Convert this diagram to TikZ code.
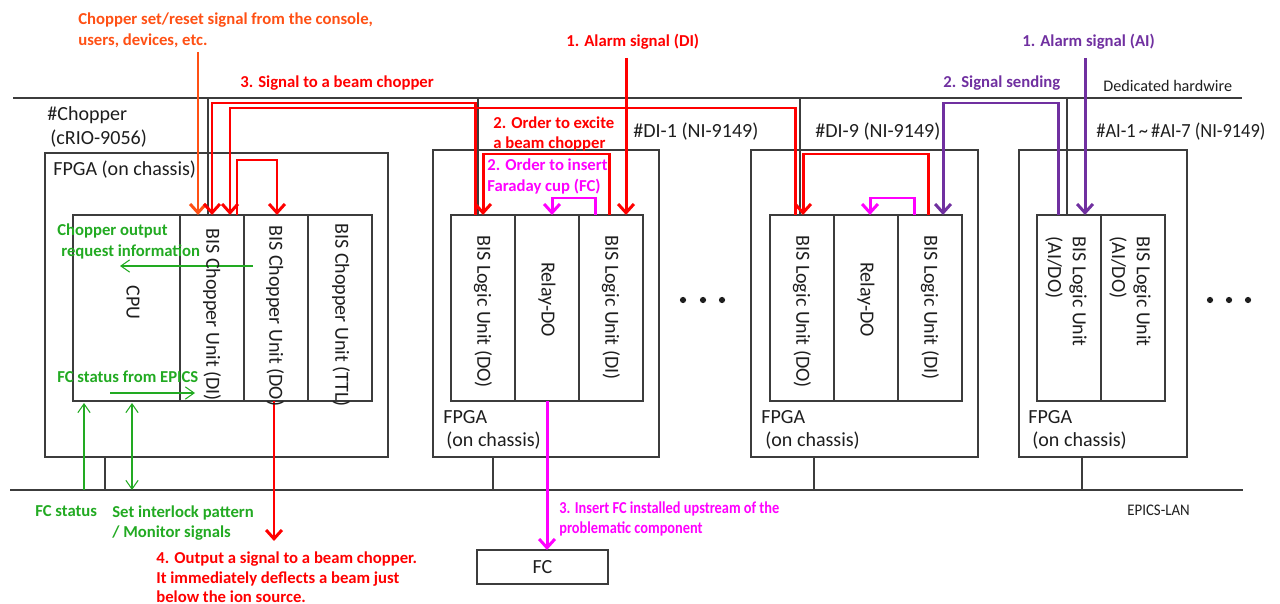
\documentclass[tikz,border=0pt]{standalone}
\usepackage{fontspec}
\setmainfont{Carlito}
\usetikzlibrary{arrows.meta,calc}
\definecolor{cred}{RGB}{255,0,0}
\definecolor{corange}{RGB}{255,80,20}
\definecolor{cmag}{RGB}{255,0,255}
\definecolor{cpurp}{RGB}{112,48,160}
\definecolor{cgreen}{RGB}{34,170,34}
\definecolor{cline}{RGB}{60,60,60}
\definecolor{ctext}{RGB}{30,30,30}
\begin{document}
\begin{tikzpicture}[x=0.02cm,y=-0.02cm,
  bx/.style={draw=cline, line width=0.85pt, inner sep=0pt, outer sep=0pt, anchor=north west},
  unitbox/.style={bx, minimum width=64*0.02cm, minimum height=186*0.02cm},
  rtxt/.style={rotate=-90, anchor=west, inner sep=0pt, font=\fontsize{11.4}{14.2}\selectfont, text=ctext},
  rtxtb/.style={rtxt, align=left},
  reg/.style={anchor=base west, inner sep=0pt, font=\fontsize{11.4}{14}\selectfont, text=ctext},
  small/.style={anchor=base west, inner sep=0pt, font=\fontsize{9.2}{11}\selectfont, text=ctext},
  lbl/.style={anchor=base west, inner sep=0pt, font=\bfseries\fontsize{9.5}{12}\selectfont},
  wire/.style={draw=cline, line width=0.85pt},
  sig/.style={line width=1.7pt, -{Straight Barb[length=5pt,width=9pt]}},
  gsig/.style={draw=cgreen, line width=0.6pt, -{Straight Barb[length=5pt,width=7pt]}},
  gsigb/.style={draw=cgreen, line width=0.6pt, {Straight Barb[length=5pt,width=7pt]}-{Straight Barb[length=5pt,width=7pt]}},
]
\useasboundingbox (0,0) rectangle (1280,604);

% ---------- buses ----------
\coordinate (hwL) at (13,98); \coordinate (hwR) at (1242,98);
\coordinate (lanL) at (10,490); \coordinate (lanR) at (1243,490);
\draw[wire] (hwL) -- (hwR);
\draw[wire] (lanL) -- (lanR);

% ---------- boxes ----------
\node[bx, minimum width=343*0.02cm, minimum height=304*0.02cm] (chfpga) at (45,153) {};
\node[unitbox, minimum width=107*0.02cm] (cpu) at (73,215) {};
\node[unitbox] (chdi) at (180,215) {};
\node[unitbox] (chdo) at (244,215) {};
\node[unitbox] (chttl) at (308,215) {};

\node[bx, minimum width=226*0.02cm, minimum height=307*0.02cm] (d1fpga) at (433,150) {};
\node[unitbox] (d1do) at (451,215) {};
\node[unitbox] (d1rl) at (515,215) {};
\node[unitbox] (d1di) at (579,215) {};

\node[bx, minimum width=227*0.02cm, minimum height=307*0.02cm] (d9fpga) at (751,150) {};
\node[unitbox] (d9do) at (770,215) {};
\node[unitbox] (d9rl) at (834,215) {};
\node[unitbox] (d9di) at (898,215) {};

\node[bx, minimum width=168*0.02cm, minimum height=307*0.02cm] (aifpga) at (1019,150) {};
\node[unitbox] (ai1) at (1037,215) {};
\node[unitbox] (ai2) at (1101,215) {};

\node[bx, minimum width=131*0.02cm, minimum height=34*0.02cm, font=\fontsize{11.4}{14}\selectfont, text=ctext] (fc) at (477,550) {FC};

% ---------- hardwire drops ----------
\draw[wire] ($(chdi.north west)+(28,0)$) coordinate (hA) -- (hA |- hwL);
\draw[wire] ($(d1do.north west)+(27,0)$) coordinate (hB) -- (hB |- hwL);
\draw[wire] ($(d9do.north west)+(30,0)$) coordinate (hC) -- (hC |- hwL);
\draw[wire] ($(ai1.north west)+(30,0)$) coordinate (hD) -- (hD |- hwL);

% ---------- LAN drops ----------
\draw[wire] ($(chfpga.south west)+(60,0)$) coordinate (lA) -- (lA |- lanL);
\draw[wire] ($(d1fpga.south west)+(60,0)$) coordinate (lB) -- (lB |- lanL);
\draw[wire] ($(d9fpga.south west)+(63,0)$) coordinate (lC) -- (lC |- lanL);
\draw[wire] ($(aifpga.south west)+(63,0)$) coordinate (lD) -- (lD |- lanL);

% ---------- signals ----------
\coordinate (orsrc) at (198,52);
\draw[sig, draw=corange] (orsrc) -- ($(chdi.north west)+(18,0)$);
\draw[sig, draw=cred] ($(d1do.north west)+(24,0)$) -- ++(0,-112) -| ($(chdi.north west)+(32,0)$);
\draw[sig, draw=cred] ($(d9do.north west)+(25,0)$) -- ++(0,-107) -| ($(chdi.north west)+(50,0)$);
\draw[sig, draw=cred] ($(chdi.north west)+(57,0)$) -- ++(0,-55) -| ($(chdo.north west)+(33,0)$);
\coordinate (choutend) at (274,541);
\draw[sig, draw=cred] ($(chdo.south west)+(30,0)$) -- (choutend);
\draw[sig, draw=cred] ($(d1di.north west)+(30,0)$) -- ++(0,-61) -| ($(d1do.north west)+(32,0)$);
\coordinate (almdi) at (626,58);
\draw[sig, draw=cred] (almdi) -- ($(d1di.north west)+(47,0)$);
\draw[sig, draw=cred] ($(d9di.north west)+(30,0)$) -- ++(0,-61) -| ($(d9do.north west)+(33,0)$);

\draw[sig, draw=cmag] ($(d1di.north west)+(16,0)$) -- ++(0,-17) -| ($(d1rl.north west)+(37,0)$);
\draw[sig, draw=cmag] ($(d9di.north west)+(16,0)$) -- ++(0,-17) -| ($(d9rl.north west)+(36,0)$);
\draw[sig, draw=cmag] ($(d1rl.south west)+(32,0)$) coordinate (m3) -- (m3 |- fc.north);

\coordinate (almai) at (1085,58);
\draw[sig, draw=cpurp] (almai) -- ($(ai1.north west)+(48,0)$);
\draw[sig, draw=cpurp] ($(ai1.north west)+(21,0)$) -- ++(0,-112) -| ($(d9di.north west)+(45,0)$);

\draw[gsig] ($(chdo.north west)+(9,51)$) -- ($(cpu.north west)+(47,51)$);
\draw[gsig] ($(cpu.north west)+(37,178)$) -- ($(chdi.north west)+(15,178)$);
\coordinate (gA) at ($(cpu.south west)+(11,2)$);
\draw[gsig] (gA |- lanL) -- (gA);
\coordinate (gB) at ($(cpu.south west)+(59,2)$);
\draw[gsigb] (gB) -- (gB |- lanL);

% ---------- dots ----------
\foreach \xx in {683,703,722,1210,1229,1248} \fill[ctext] (\xx,300) circle[radius=3.1];

% ---------- rotated unit texts ----------
\node[rtxt] (tcpu) at (133,285) {CPU};
\node[rtxt] (tchdi) at (212,228) {BIS Chopper Unit (DI)};
\node[rtxt] (tchdo) at (275,225) {BIS Chopper Unit (DO)};
\node[rtxt] (tchttl) at (341,223) {BIS Chopper Unit (TTL)};
\node[rtxt] (td1do) at (483,235) {BIS Logic Unit (DO)};
\node[rtxt] (td1rl) at (547,262) {Relay-DO};
\node[rtxt] (td1di) at (611,235) {BIS Logic Unit (DI)};
\node[rtxt] (td9do) at (802,235) {BIS Logic Unit (DO)};
\node[rtxt] (td9rl) at (866,262) {Relay-DO};
\node[rtxt] (td9di) at (930,235) {BIS Logic Unit (DI)};
\node[rtxtb] (tai1) at (1066,236) {BIS Logic Unit\\(AI/DO)};
\node[rtxtb] (tai2) at (1130,236) {BIS Logic Unit\\(AI/DO)};

% ---------- regular texts ----------
\node[reg] (tch) at (47,121) {\#Chopper};
\node[reg] (tcrio) at (50,145) {(cRIO-9056)};
\node[reg] (tchf) at (53,176) {FPGA (on chassis)};
\node[reg] (td1) at (633,138) {\#DI-1 (NI-9149)};
\node[reg] (td9) at (815,138) {\#DI-9 (NI-9149)};
\node[reg] (tai) at (1096,138) {\scalebox{0.92}[1]{\#AI-1\,\textasciitilde\,\#AI-7 (NI-9149)}};
\node[reg] (f1a) at (443,423) {FPGA};
\node[reg] (f1b) at (446,446) {(on chassis)};
\node[reg] (f9a) at (761,423) {FPGA};
\node[reg] (f9b) at (765,446) {(on chassis)};
\node[reg] (faa) at (1028,423) {FPGA};
\node[reg] (fab) at (1032,446) {(on chassis)};
\node[small] (thw) at (1103,92) {Dedicated hardwire};
\node[small] (tlan) at (1127,515) {\scalebox{0.92}[1]{EPICS-LAN}};

% ---------- signal labels ----------
\node[lbl, text=corange] (o1) at (78,25) {Chopper set/reset signal from the console,};
\node[lbl, text=corange] (o2) at (78,46) {users, devices, etc.};
\node[lbl, text=cred] (r3) at (240,88) {3. Signal to a beam chopper};
\node[lbl, text=cred] (r1) at (566,47) {1. Alarm signal (DI)};
\node[lbl, text=cred] (r2a) at (493,129) {2. Order to excite};
\node[lbl, text=cred] (r2b) at (493,149) {a beam chopper};
\node[lbl, text=cmag] (m2a) at (487,171) {2. Order to insert};
\node[lbl, text=cmag] (m2b) at (487,192) {Faraday cup (FC)};
\node[lbl, text=cpurp] (p1) at (1022,47) {1. Alarm signal (AI)};
\node[lbl, text=cpurp] (p2) at (943,88) {2. Signal sending};
\node[lbl, text=cgreen] (g1a) at (57,236) {Chopper output};
\node[lbl, text=cgreen] (g1b) at (61,256) {request information};
\node[lbl, text=cgreen] (g2) at (57,382) {FC status from EPICS};
\node[lbl, text=cgreen] (g3) at (35,516) {FC status};
\node[lbl, text=cgreen] (g4a) at (112,517) {Set interlock pattern};
\node[lbl, text=cgreen] (g4b) at (112,537) {/ Monitor signals};
\node[lbl, text=cred] (r4a) at (156,563) {4. Output a signal to a beam chopper.};
\node[lbl, text=cred] (r4b) at (156,583) {It immediately deflects a beam just};
\node[lbl, text=cred] (r4c) at (156,602) {below the ion source.};
\node[lbl, text=cmag] (m3a) at (559,513) {\scalebox{0.86}[1]{3. Insert FC installed upstream of the}};
\node[lbl, text=cmag] (m3b) at (559,533) {\scalebox{0.86}[1]{problematic component}};
\end{tikzpicture}
\end{document}
